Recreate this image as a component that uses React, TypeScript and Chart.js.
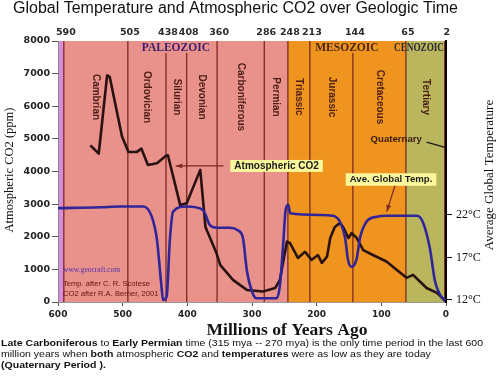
import React, { useEffect, useRef } from "react";
import { Chart, registerables } from "chart.js";

Chart.register(...registerables);

// ---------- texts ----------
const chartTitle = "Global Temperature and Atmospheric CO2 over Geologic Time";
const xAxisTitle = "Millions of Years Ago";
const yAxisTitle = "Atmospheric CO2 (ppm)";
const y2AxisTitle = "Average Global Temperature";

// ---------- data ----------
// Atmospheric CO2 (ppm) vs. millions of years ago
const co2Ages = [550, 537, 524, 520, 501, 491, 478, 471, 461, 447, 432, 430, 411, 401, 380, 372, 355, 349, 329, 308, 283, 264, 257, 252, 246, 241, 229, 218, 208, 198, 192, 184, 179, 172, 164, 159, 151, 146, 138, 128, 113, 92, 76, 61, 51, 40, 30, 14, 1.5];
const co2Ppm = [4800, 4550, 6950, 6900, 5070, 4600, 4600, 4700, 4200, 4250, 4500, 4500, 2970, 3030, 4050, 2300, 1500, 1130, 670, 370, 320, 430, 670, 1200, 1850, 1800, 1350, 1540, 1290, 1440, 1200, 1390, 1960, 2300, 2420, 2300, 1960, 2110, 1960, 1590, 1440, 1240, 980, 740, 830, 620, 430, 280, 40];

// Average global temperature (°C) vs. millions of years ago
const tempAges = [600, 535, 504, 468, 455, 447, 440, 437.5, 432, 427, 422, 401, 376, 365, 355, 334, 322, 314, 308, 300, 293, 262, 257, 252, 248, 244, 241, 195, 175, 164, 156, 151.5, 146, 138, 133, 123, 107, 92, 45, 36, 25, 17, 9, 1.5];
const tempC = [22.8, 22.9, 23.0, 23.0, 21.8, 19.1, 13.6, 12.0, 12.4, 19.1, 22.4, 23.0, 22.6, 20.8, 20.5, 20.5, 20.2, 19.3, 15.5, 13.0, 12.2, 12.2, 13.6, 18.3, 22.6, 23.2, 22.2, 22.0, 21.9, 21.2, 19.3, 16.7, 15.9, 16.9, 19.3, 21.2, 21.8, 21.9, 21.9, 21.2, 18.1, 14.2, 12.6, 11.9];

// axis ticks
const co2Ticks = [0, 1000, 2000, 3000, 4000, 5000, 6000, 7000, 8000];
const tempTicks = [12, 17, 22];
const ageTicks = [600, 500, 400, 300, 200, 100, 0];

// geologic boundaries (label and drawn position in Ma)
const boundaryLabels = ["590", "505", "438", "408", "360", "286", "248", "213", "144", "65", "2"];
const boundaryAges = [591, 492, 433, 401, 354, 281, 244.5, 210.5, 144, 62, 2];
const periodNames = ["Cambrian", "Ordovician", "Silurian", "Devonian", "Carboniferous", "Permian", "Triassic", "Jurassic", "Cretaceous", "Tertiary"];
const eraNames = ["PALEOZOIC", "MESOZOIC", "CENOZOIC"];
const eraFirstBoundary = [0, 6, 9];
const eraLastBoundary = [6, 9, 10];

// annotation texts
const co2Label = "Atmospheric CO2";
const tempLabel = "Ave. Global Temp.";
const quaternaryLabel = "Quaternary";
const creditLines = ["www.geocraft.com", "Temp. after C. R. Scotese", "CO2 after R.A. Berner, 2001"];
const footnoteLines: [string, boolean][][] = [
  [["Late Carboniferous", true], [" to ", false], ["Early Permian", true], [" time (315 mya -- 270 mya) is the only time period in the last 600", false]],
  [["million years when ", false], ["both", true], [" atmospheric ", false], ["CO2", true], [" and ", false], ["temperatures", true], [" were as low as they are today", false]],
  [["(Quaternary Period ).", true]],
];

// ---------- styles ----------
const SANS = "'Liberation Sans', Arial, sans-serif";
const WIDE = "'DejaVu Sans', Verdana, sans-serif";
const SERIF = "'Liberation Serif', 'Times New Roman', serif";
const preCambrianColor = "#d88cd9";
const eraColors = ["#e8928b", "#ef951f", "#b9b65d"];
const eraTextColors = ["#3b1d6e", "#4a2414", "#2a2a30"];
const boundaryColor = "#7a2a22";
const periodTextColor = "#4a1c14";
const co2Color = "#2b1212";
const tempColor = "#31259a";
const noteBox = "#fbf89c";

function drawText(ctx: CanvasRenderingContext2D, s: string, x: number, y: number, font: string, color: string, align: CanvasTextAlign = "center", maxW?: number) {
  ctx.font = font;
  ctx.fillStyle = color;
  ctx.textAlign = align;
  ctx.textBaseline = "middle";
  if (maxW) ctx.fillText(s, x, y, maxW);
  else ctx.fillText(s, x, y);
}

function drawArrow(ctx: CanvasRenderingContext2D, x1: number, y1: number, x2: number, y2: number, color: string) {
  ctx.save();
  ctx.strokeStyle = color;
  ctx.fillStyle = color;
  ctx.lineWidth = 1.2;
  ctx.beginPath();
  ctx.moveTo(x1, y1);
  ctx.lineTo(x2, y2);
  ctx.stroke();
  const a = Math.atan2(y2 - y1, x2 - x1);
  const h = 7;
  ctx.beginPath();
  ctx.moveTo(x2, y2);
  ctx.lineTo(x2 - h * Math.cos(a - 0.35), y2 - h * Math.sin(a - 0.35));
  ctx.lineTo(x2 - h * Math.cos(a + 0.35), y2 - h * Math.sin(a + 0.35));
  ctx.closePath();
  ctx.fill();
  ctx.restore();
}

const HEADER_H = 12;

const backgroundPlugin = {
  id: "geoBackground",
  beforeDraw(chart: any) {
    const { ctx, chartArea, scales } = chart;
    const x = scales.x;
    const top = chartArea.top;
    const bottom = chartArea.bottom;
    ctx.save();
    ctx.fillStyle = "#ffffff";
    ctx.fillRect(0, 0, chart.width, chart.height);
    // pre-Cambrian strip
    ctx.fillStyle = preCambrianColor;
    const x600 = x.getPixelForValue(600);
    const x0 = x.getPixelForValue(boundaryAges[0]);
    ctx.fillRect(x600, top, x0 - x600, bottom - top);
    // eras
    eraNames.forEach((_, i) => {
      const a = x.getPixelForValue(boundaryAges[eraFirstBoundary[i]]);
      const endAge = i === eraNames.length - 1 ? 0 : boundaryAges[eraLastBoundary[i]];
      const b = x.getPixelForValue(endAge);
      ctx.fillStyle = eraColors[i];
      ctx.fillRect(a, top, b - a, bottom - top);
    });
    // era labels (measure extents for line breaks)
    const eraExtents: [number, number][] = [];
    eraNames.forEach((name, i) => {
      const a = x.getPixelForValue(boundaryAges[eraFirstBoundary[i]]);
      const b = x.getPixelForValue(boundaryAges[eraLastBoundary[i]]);
      ctx.font = `bold 11.5px ${SERIF}`;
      let w = ctx.measureText(name).width;
      const maxW = i === 2 ? 50 : w;
      w = Math.min(w, maxW);
      let cx = (a + b) / 2;
      if (cx + w / 2 > chartArea.right - 2) cx = chartArea.right - 2 - w / 2;
      eraExtents.push([cx - w / 2, cx + w / 2]);
      drawText(ctx, name, cx, top + 7, `bold 11.5px ${SERIF}`, eraTextColors[i], "center", maxW);
    });
    // boundary lines
    ctx.strokeStyle = boundaryColor;
    ctx.lineWidth = 1.3;
    boundaryAges.forEach((age, i) => {
      const px = x.getPixelForValue(age);
      const interior = !eraFirstBoundary.includes(i) && !eraLastBoundary.includes(i);
      const underText = interior && eraExtents.some(([l, r]) => px > l - 3 && px < r + 3);
      ctx.beginPath();
      ctx.moveTo(px, underText ? top + HEADER_H : top);
      ctx.lineTo(px, bottom);
      ctx.stroke();
    });
    // boundary numbers above the chart
    boundaryLabels.forEach((lab, i) => {
      drawText(ctx, lab, x.getPixelForValue(boundaryAges[i]) + 2, top - 8, `bold 9.5px ${WIDE}`, "#2a2a2a");
    });
    // period names (vertical)
    periodNames.forEach((name, i) => {
      const cx = (x.getPixelForValue(boundaryAges[i]) + x.getPixelForValue(boundaryAges[i + 1])) / 2;
      ctx.save();
      ctx.translate(cx, top + 56);
      ctx.rotate(Math.PI / 2);
      drawText(ctx, name, 0, 0, `bold 10px ${SANS}`, periodTextColor);
      ctx.restore();
    });
    ctx.restore();
  },
};

const overlayPlugin = {
  id: "geoOverlay",
  afterDatasetsDraw(chart: any) {
    const { ctx, chartArea, scales } = chart;
    const x = scales.x, y = scales.y, y2 = scales.y2;
    ctx.save();
    // CO2 note
    {
      const cx = x.getPixelForValue(262), cy = y.getPixelForValue(4170);
      ctx.font = `bold 10px ${SANS}`;
      const w = ctx.measureText(co2Label).width + 8;
      ctx.fillStyle = noteBox;
      ctx.fillRect(cx - w / 2, cy - 6, w, 12);
      drawText(ctx, co2Label, cx, cy + 0.5, `bold 10px ${SANS}`, "#1a1a1a");
      drawArrow(ctx, cx - w / 2 - 7, cy, x.getPixelForValue(418), cy, boundaryColor);
    }
    // Temperature note
    {
      const cx = x.getPixelForValue(85), cy = y2.getPixelForValue(26.2);
      ctx.font = `bold 9.6px ${SANS}`;
      const w = ctx.measureText(tempLabel).width + 8;
      ctx.fillStyle = noteBox;
      ctx.fillRect(cx - w / 2, cy - 6, w, 12.5);
      drawText(ctx, tempLabel, cx, cy + 0.5, `bold 9.6px ${SANS}`, "#1a1a1a");
      drawArrow(ctx, x.getPixelForValue(79), cy + 6.5, x.getPixelForValue(91.5), y2.getPixelForValue(22.4), boundaryColor);
    }
    // Quaternary
    {
      const cx = x.getPixelForValue(77), cy = y.getPixelForValue(5000);
      drawText(ctx, quaternaryLabel, cx, cy, `bold 9.6px ${SANS}`, "#3a1a10");
      ctx.strokeStyle = "#1a1a1a";
      ctx.lineWidth = 1.4;
      ctx.beginPath();
      ctx.moveTo(x.getPixelForValue(30), y.getPixelForValue(4900));
      ctx.lineTo(x.getPixelForValue(1.5), y.getPixelForValue(4740));
      ctx.stroke();
    }
    // credits
    const lx = chartArea.left + 5;
    drawText(ctx, creditLines[0], lx, y.getPixelForValue(1000), `8.5px ${SERIF}`, "#5030b0", "left", 57);
    drawText(ctx, creditLines[1], lx, y.getPixelForValue(550), `7.6px ${SANS}`, "#6a1010", "left");
    drawText(ctx, creditLines[2], lx, y.getPixelForValue(250), `7.6px ${SANS}`, "#6a1010", "left");
    ctx.restore();
  },
  afterDraw(chart: any) {
    const { ctx, chartArea } = chart;
    ctx.save();
    // title
    drawText(ctx, chartTitle, 13, 9, `16px ${SANS}`, "#111", "left");
    // axis titles
    ctx.save();
    ctx.translate(10, 170);
    ctx.rotate(-Math.PI / 2);
    drawText(ctx, yAxisTitle, 0, 0, `12.5px ${SERIF}`, "#111");
    ctx.restore();
    ctx.save();
    ctx.translate(490, 175);
    ctx.rotate(-Math.PI / 2);
    drawText(ctx, y2AxisTitle, 0, 0, `13px ${SERIF}`, "#111");
    ctx.restore();
    drawText(ctx, xAxisTitle, (chartArea.left + chartArea.right) / 2 + 35, 330, `bold 17.5px ${SERIF}`, "#111");
    // footnote
    const fs = 9.5;
    const measure = (line: [string, boolean][]) => line.reduce((s, [t, b]) => {
      ctx.font = `${b ? "bold " : ""}${fs}px ${SANS}`;
      return s + ctx.measureText(t).width;
    }, 0);
    const fit = 482 / measure(footnoteLines[0]);
    footnoteLines.forEach((line, li) => {
      ctx.save();
      ctx.translate(1, 343.5 + li * 11);
      ctx.scale(fit, 1);
      let cx = 0;
      line.forEach(([t, b]) => {
        drawText(ctx, t, cx, 0, `${b ? "bold " : ""}${fs}px ${SANS}`, "#111", "left");
        cx += ctx.measureText(t).width;
      });
      ctx.restore();
    });
    ctx.restore();
  },
};

export default function App() {
  const ref = useRef<HTMLCanvasElement>(null);
  useEffect(() => {
    document.body.style.margin = "0";
    const canvas = ref.current;
    if (!canvas) return;
    const chart = new Chart(canvas, {
      type: "line",
      data: {
        datasets: [
          {
            label: "Ave. Global Temp.",
            data: tempAges.map((a, i) => ({ x: a, y: tempC[i] })),
            yAxisID: "y2",
            borderColor: tempColor,
            borderWidth: 2.6,
            pointRadius: 0,
            cubicInterpolationMode: "monotone",
            fill: false,
          },
          {
            label: "Atmospheric CO2",
            data: co2Ages.map((a, i) => ({ x: a, y: co2Ppm[i] })),
            yAxisID: "y",
            borderColor: co2Color,
            borderWidth: 2.6,
            pointRadius: 0,
            tension: 0,
            borderJoinStyle: "round",
            fill: false,
          },
        ],
      },
      options: {
        responsive: false,
        animation: false,
        events: [],
        layout: { padding: { top: 41, left: 0, right: 0, bottom: 0 } },
        plugins: { legend: { display: false }, title: { display: false }, tooltip: { enabled: false } },
        scales: {
          x: {
            type: "linear",
            reverse: true,
            min: 0,
            max: 600,
            afterFit: (s: any) => { s.height = 76; },
            afterBuildTicks: (s: any) => { s.ticks = ageTicks.map((v) => ({ value: v })); },
            ticks: { font: { family: WIDE, size: 9, weight: "bold" }, color: "#222", padding: 3, maxRotation: 0, autoSkip: false, callback: (v: any) => String(v) },
            grid: { drawOnChartArea: false, tickLength: 4, color: "#555" },
            border: { color: "#999", width: 1 },
          },
          y: {
            position: "left",
            min: 0,
            max: 8000,
            afterFit: (s: any) => { s.width = 58; },
            afterBuildTicks: (s: any) => { s.ticks = co2Ticks.map((v) => ({ value: v })); },
            ticks: { font: { family: WIDE, size: 9.5, weight: "bold" }, color: "#222", padding: 2, callback: (v: any) => String(v) },
            grid: { drawOnChartArea: false, tickLength: 6, color: "#555" },
            border: { color: "#888", width: 1 },
          },
          y2: {
            position: "right",
            min: 11.76,
            max: 42.47,
            afterFit: (s: any) => { s.width = 54; },
            afterBuildTicks: (s: any) => { s.ticks = tempTicks.map((v) => ({ value: v })); },
            ticks: { font: { family: "'Liberation Serif', serif", size: 12 }, color: "#111", padding: 4, callback: (v: any) => `${v}°C` },
            grid: { drawOnChartArea: false, tickLength: 6, color: "#111" },
            border: { color: "#000", width: 2 },
          },
        },
      } as any,
      plugins: [backgroundPlugin, overlayPlugin],
    });
    return () => chart.destroy();
  }, []);
  return (
    <div style={{ width: 500, height: 378, background: "#fff" }}>
      <canvas ref={ref} width={500} height={378} style={{ display: "block" }} />
    </div>
  );
}
